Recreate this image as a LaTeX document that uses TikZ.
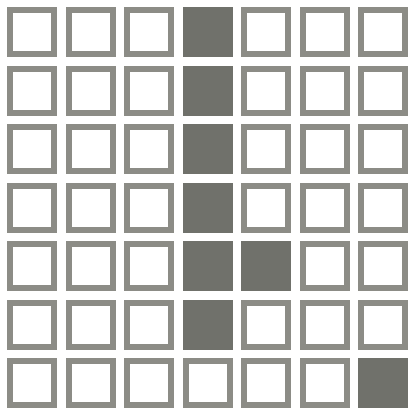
\documentclass[tikz,border=0pt]{standalone}
\usetikzlibrary{positioning}
\definecolor{cellgray}{RGB}{140,140,134}
\definecolor{fillgray}{RGB}{112,113,107}
\begin{document}
\begin{tikzpicture}[
    x=0.05cm, y=-0.05cm,
    cell/.style={rectangle, draw=cellgray, line width=0.3cm, minimum size=2.2cm, inner sep=0pt},
    shaded/.style={cell, draw=fillgray, fill=fillgray}
]
\useasboundingbox (0,0) rectangle (419,419);

\foreach \r in {0,...,6}
  \foreach \c in {0,...,6}{
    \pgfmathtruncatemacro\isfull{(\c==3 && \r<6) || (\r==4 && \c==4) || (\r==6 && \c==6)}
    \ifnum\isfull=1
      \node[shaded] (cell\r\c) at (32+58.5*\c, 32+58.5*\r) {};
    \else
      \node[cell] (cell\r\c) at (32+58.5*\c, 32+58.5*\r) {};
    \fi
  }

\end{tikzpicture}
\end{document}
